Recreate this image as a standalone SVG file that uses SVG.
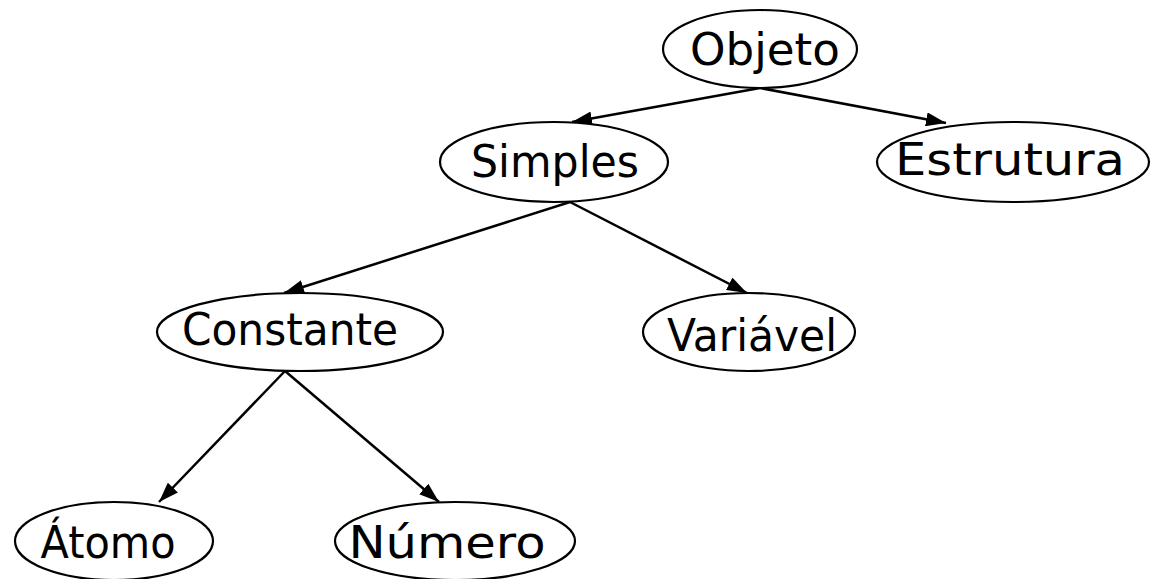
<svg xmlns="http://www.w3.org/2000/svg" width="1153" height="579" viewBox="0 0 1153 579">
  <style>
    .node ellipse { fill: #ffffff; stroke: #000000; stroke-width: 2.2; }
    .node text { font-family: "Comic Sans MS", "DejaVu Sans", "Liberation Sans", sans-serif; font-size: 45px; fill: #000000; text-anchor: middle; }
    .edge { stroke: #000000; stroke-width: 2.5; fill: none; marker-end: url(#arrow); }
  </style>
  <defs>
    <marker id="arrow" viewBox="0 0 20 14" refX="20" refY="7" markerWidth="8" markerHeight="5.6" markerUnits="strokeWidth" orient="auto">
      <path d="M0,0 L20,7 L0,14 z" fill="#000000"/>
    </marker>
  </defs>
  <rect width="1153" height="579" fill="#ffffff"/>

  <g id="connectors">
    <line class="edge" x1="760" y1="88" x2="572" y2="122"/>
    <line class="edge" x1="760" y1="88" x2="946" y2="123"/>
    <line class="edge" x1="570" y1="202" x2="284" y2="293"/>
    <line class="edge" x1="570" y1="202" x2="747" y2="293"/>
    <line class="edge" x1="285" y1="371" x2="159" y2="502"/>
    <line class="edge" x1="285" y1="371" x2="439" y2="502"/>
  </g>

  <g id="objeto" class="node">
    <ellipse cx="760" cy="49" rx="97" ry="39"/>
    <text x="765" y="65" textLength="150" lengthAdjust="spacingAndGlyphs">Objeto</text>
  </g>
  <g id="simples" class="node">
    <ellipse cx="554" cy="162" rx="114" ry="40"/>
    <text x="555" y="177" textLength="168" lengthAdjust="spacingAndGlyphs">Simples</text>
  </g>
  <g id="estrutura" class="node">
    <ellipse cx="1013" cy="162" rx="136" ry="40"/>
    <text x="1010" y="175" textLength="230" lengthAdjust="spacingAndGlyphs">Estrutura</text>
  </g>
  <g id="constante" class="node">
    <ellipse cx="300" cy="332" rx="143" ry="39"/>
    <text x="290" y="345" textLength="216" lengthAdjust="spacingAndGlyphs">Constante</text>
  </g>
  <g id="variavel" class="node">
    <ellipse cx="749" cy="332" rx="106" ry="39"/>
    <text x="752" y="351" textLength="170" lengthAdjust="spacingAndGlyphs">Variável</text>
  </g>
  <g id="atomo" class="node">
    <ellipse cx="114" cy="541" rx="99" ry="39"/>
    <text x="108" y="558" textLength="135" lengthAdjust="spacingAndGlyphs">Átomo</text>
  </g>
  <g id="numero" class="node">
    <ellipse cx="455" cy="541" rx="120" ry="39"/>
    <text x="447" y="558" textLength="197" lengthAdjust="spacingAndGlyphs">Número</text>
  </g>
</svg>
